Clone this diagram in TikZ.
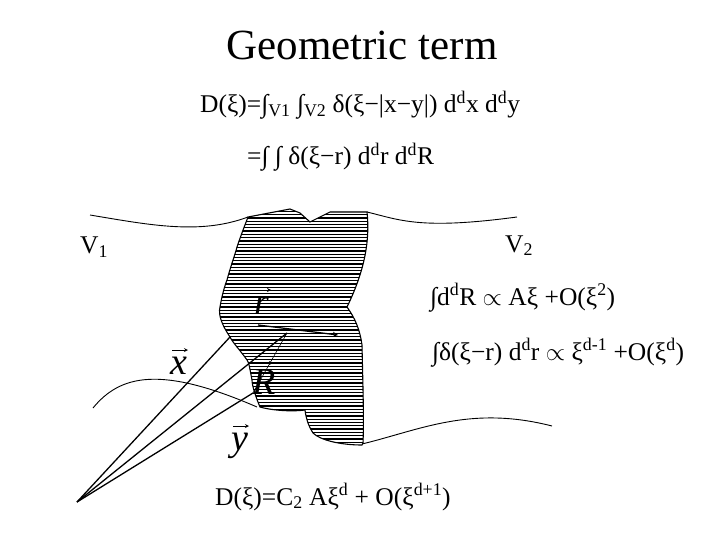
\documentclass[tikz,border=0pt]{standalone}
\usepackage{fontspec}
\setmainfont{Liberation Serif}
\usetikzlibrary{calc}
\begin{document}
\begin{tikzpicture}[x=1pt,y=-1pt,
  txt/.style={font=\fontsize{25.5}{28}\selectfont,inner sep=0pt,anchor=base west},
  vlab/.style={font=\fontsize{38}{40}\selectfont\itshape,inner sep=0pt,anchor=base},
  varr/.style={-stealth,line width=0.8pt},
  curve/.style={line width=0.9pt},
  vec/.style={line width=1.3pt}]
\useasboundingbox (0,0) rectangle (720,540);
\node[font=\fontsize{43}{45}\selectfont] (title) at (362,45) {Geometric term};
\node[txt] (eq1) at (200,113) {D(ξ)=∫\textsubscript{V1} ∫\textsubscript{V2} δ(ξ−|x−y|) d\textsuperscript{d}x d\textsuperscript{d}y};
\node[txt] (eq2) at (247,165) {=∫ ∫ δ(ξ−r) d\textsuperscript{d}r d\textsuperscript{d}R};
\node[txt] (v1) at (80,254) {V\textsubscript{1}};
\node[txt] (v2) at (505,252) {V\textsubscript{2}};
\node[txt] (i1) at (430,305) {∫d\textsuperscript{d}R $\propto$ Aξ +O(ξ\textsuperscript{2})};
\node[txt] (i2) at (432,360) {∫δ(ξ−r) d\textsuperscript{d}r $\propto$ ξ\textsuperscript{d-1} +O(ξ\textsuperscript{d})};
\node[txt] (eq3) at (215,505) {D(ξ)=C\textsubscript{2} Aξ\textsuperscript{d} + O(ξ\textsuperscript{d+1})};
% curves
\draw[curve] (90,215) .. controls (150,225) and (200,235) .. (248,217);
\draw[curve] (367,212) .. controls (400,220) and (420,230) .. (517,217);
\draw[curve] (93,408) .. controls (120,375) and (160,365) .. (257,407);
\draw[curve] (362,444) .. controls (420,430) and (470,405) .. (552,426);
% shape
\def\blob{(248,217) -- (290,209) -- (300,213) -- (310,222) -- (330,212) -- (367,212)
  .. controls (370,240) and (365,270) .. (347,307)
  .. controls (355,318) and (360,330) .. (362,345)
  .. controls (363,390) and (364,420) .. (363,443)
  -- (362,445) .. controls (340,445) and (320,440) .. (313,433)
  .. controls (308,425) and (306,418) .. (305,410)
  .. controls (290,412) and (270,410) .. (260,407)
  .. controls (255,395) and (252,385) .. (252,380)
  .. controls (250,370) and (249,362) .. (247,360)
  .. controls (240,350) and (233,343) .. (230,337)
  .. controls (222,325) and (218,315) .. (220,307)
  .. controls (222,295) and (225,285) .. (227,280)
  .. controls (231,265) and (235,255) .. (237,247)
  .. controls (241,235) and (245,225) .. (248,217) -- cycle}
\begin{scope}
\clip \blob;
\foreach \yy in {208,211.3,...,450} \draw[line width=1.3pt] (200,\yy) -- (400,\yy);
\end{scope}
\draw[line width=1.1pt] \blob;
% vectors
\coordinate (o) at (77,502);
\coordinate (px) at (230,337);
\coordinate (py) at (287,333);
\coordinate (pr) at (253,393);
\coordinate (rs) at (258,325);
\coordinate (re) at (338,335);
\draw[vec] (o) -- (px);
\draw[vec] (o) -- (py);
\draw[vec] (o) -- (pr);
\draw[vec,-stealth] (rs) -- (re);
\draw[line width=0.6pt] (pr) -- (py);
\node[vlab] (lx) at (179,374) {x};
\node[vlab] (ly) at (240,450) {y};
\node[vlab] (lr) at (262,314) {r};
\node[vlab] (lR) at (264,394) {R};
\foreach \n/\h in {lx/24,ly/24,lr/24,lR/31}
  \draw[varr] ($(\n.base)+(-7,-\h)$) -- ($(\n.base)+(9,-\h)$);
\end{tikzpicture}
\end{document}
